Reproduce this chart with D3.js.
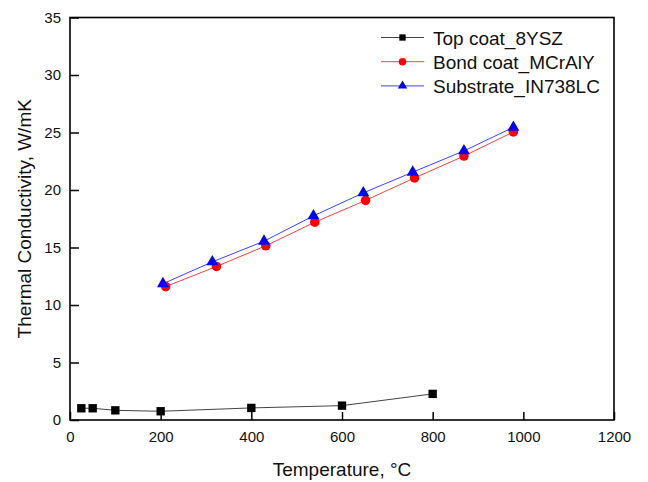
<!DOCTYPE html>
<html>
<head>
<meta charset="utf-8">
<script src="https://cdn.jsdelivr.net/npm/d3@7"></script>
<style>
  html, body { margin: 0; padding: 0; background: #fff; }
  svg { display: block; font-family: "Liberation Sans", Arial, sans-serif; }
</style>
</head>
<body>
<svg id="chart" width="648" height="482"></svg>
<script>
// Thermal conductivity of each layer against temperature
const topT  = [25, 50, 100, 200, 400, 600, 800];
const topK  = [1.02, 1.02, 0.84, 0.76, 1.05, 1.25, 2.27];
const bondT = [211, 323, 432, 540, 652, 760, 869, 978];
const bondK = [11.6, 13.35, 15.15, 17.2, 19.1, 21.05, 22.95, 25.05];
const subT  = [205, 314, 428, 537, 647, 756, 869, 978];
const subK  = [11.85, 13.75, 15.55, 17.75, 19.75, 21.55, 23.4, 25.45];

const xTicks = [0, 200, 400, 600, 800, 1000, 1200];
const yTicks = [0, 5, 10, 15, 20, 25, 30, 35];
const seriesNames = ["Top coat_8YSZ", "Bond coat_MCrAlY", "Substrate_IN738LC"];

const margin = { left: 70, right: 34, top: 17.5, bottom: 62 };
const W = 648, H = 482;
const svg = d3.select("#chart");

const x = d3.scaleLinear().domain([0, 1200]).range([margin.left, W - margin.right]);
const y = d3.scaleLinear().domain([0, 35]).range([H - margin.bottom, margin.top]);

const x0 = x.range()[0], x1 = x.range()[1];
const y0 = y.range()[0], y1 = y.range()[1];

// ticks point inward; minor ticks between labelled ones
const gx = svg.append("g").attr("transform", `translate(0,${y0})`);
gx.call(d3.axisBottom(x).tickValues(d3.range(100, 1200, 200)).tickSize(-5).tickFormat(""))
  .call(g => g.select(".domain").remove());
gx.call(d3.axisBottom(x).tickValues(xTicks).tickSize(-8).tickPadding(11).tickFormat(d3.format("d")))
  .call(g => g.selectAll(".domain").remove());
gx.selectAll("line").attr("stroke", "#000").attr("stroke-width", 1.5);
gx.selectAll("text").attr("font-size", 15).attr("fill", "#111").attr("font-family", "Liberation Sans, Arial, sans-serif");

const gy = svg.append("g").attr("transform", `translate(${x0},0)`);
gy.call(d3.axisLeft(y).tickValues(d3.range(2.5, 35, 5)).tickSize(-6).tickFormat(""))
  .call(g => g.select(".domain").remove());
gy.call(d3.axisLeft(y).tickValues(yTicks).tickSize(-9).tickPadding(9).tickFormat(d3.format("d")))
  .call(g => g.selectAll(".domain").remove());
gy.selectAll("line").attr("stroke", "#000").attr("stroke-width", 1.5);
gy.selectAll("text").attr("font-size", 15).attr("fill", "#111").attr("font-family", "Liberation Sans, Arial, sans-serif");

// frame
svg.append("rect")
  .attr("x", x0).attr("y", y1).attr("width", x1 - x0).attr("height", y0 - y1)
  .attr("fill", "none").attr("stroke", "#000").attr("stroke-width", 1.6);

// axis titles
svg.append("text")
  .attr("x", (x0 + x1) / 2).attr("y", 476)
  .attr("text-anchor", "middle").attr("font-size", 19).attr("fill", "#111")
  .text("Temperature, \u00B0C");

svg.append("text")
  .attr("transform", `translate(31,${(y0 + y1) / 2}) rotate(-90)`)
  .attr("text-anchor", "middle").attr("font-size", 19).attr("fill", "#111")
  .text("Thermal Conductivity, W/mK");

const series = [
  { name: seriesNames[0], xs: topT,  ys: topK,  line: "#444",    fill: "#000",    sym: d3.symbolSquare,   size: 70, lsize: 40 },
  { name: seriesNames[1], xs: bondT, ys: bondK, line: "#ff4040", fill: "#ff0000", sym: d3.symbolCircle,   size: 72, lsize: 44 },
  { name: seriesNames[2], xs: subT,  ys: subK,  line: "#4040ff", fill: "#0000ff", sym: d3.symbolTriangle, size: 62, lsize: 38 }
];

const line = d3.line().x(d => x(d[0])).y(d => y(d[1]));

series.forEach(s => {
  const pts = s.xs.map((t, i) => [t, s.ys[i]]);
  svg.append("path").datum(pts)
    .attr("d", line).attr("fill", "none")
    .attr("stroke", s.line).attr("stroke-width", 1);
  svg.append("g").selectAll("path").data(pts).join("path")
    .attr("transform", d => `translate(${x(d[0])},${y(d[1])})`)
    .attr("d", d3.symbol().type(s.sym).size(s.size))
    .attr("fill", s.fill);
});

// legend
const leg = svg.append("g");
series.forEach((s, i) => {
  const ly = 37.5 + i * 24.2;
  leg.append("line").attr("x1", 381).attr("x2", 424).attr("y1", ly).attr("y2", ly)
    .attr("stroke", s.line).attr("stroke-width", 1);
  leg.append("path").attr("transform", `translate(402.5,${ly})`)
    .attr("d", d3.symbol().type(s.sym).size(s.lsize)).attr("fill", s.fill);
  leg.append("text").attr("x", 433).attr("y", ly + 7)
    .attr("font-size", 19).attr("fill", "#111").text(s.name);
});
</script>
</body>
</html>
